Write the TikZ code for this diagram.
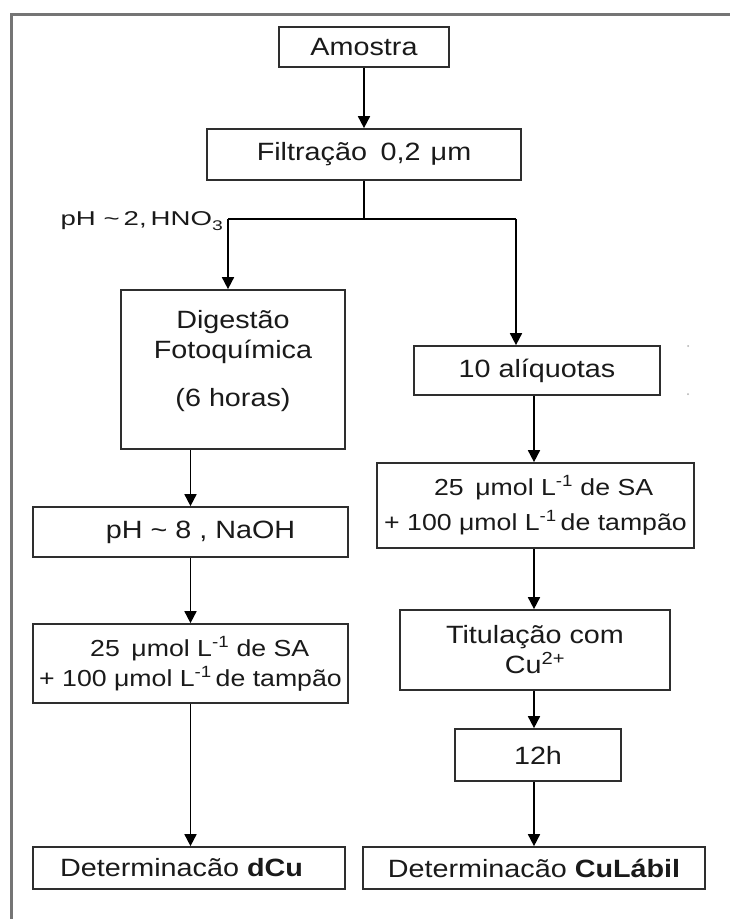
\documentclass[tikz,border=0pt]{standalone}
\usepackage{graphicx}
\usepackage{fontspec}
\setmainfont{Liberation Sans}[FakeStretch=1.15]
\usetikzlibrary{arrows.meta}
\definecolor{boxline}{HTML}{2E2E2E}
\definecolor{framecol}{HTML}{757575}
\definecolor{txt}{HTML}{1A1A1A}
\definecolor{dotcol}{HTML}{B0B0B0}
\begin{document}
\begin{tikzpicture}[x=1pt,y=-1pt,
  box/.style={draw=boxline, line width=1.7pt, inner sep=0pt, text=txt, align=center,
              font=\fontsize{25}{30}\selectfont},
  smallbox/.style={box, font=\fontsize{23.2}{30}\selectfont},
  lbl/.style={inner sep=0pt, text=txt, align=center, font=\fontsize{25}{30}\selectfont},
  arr/.style={draw=black, line width=1.7pt, -{Triangle[width=12pt,length=12pt]}},
  ln/.style={draw=black, line width=1.7pt}]
\useasboundingbox (0,0) rectangle (730,919);
\fill[white] (0,0) rectangle (730,919);
% outer frame (open at right and bottom)
\draw[framecol, line width=3pt] (11.6,919) -- (11.6,14) -- (730,14);

% boxes
\node[box, minimum width=170pt, minimum height=40pt] (amo) at (364,47) {Amostra};
\node[box, minimum width=314pt, minimum height=51pt] (filt) at (364,154.5) {Filtração\hspace{0.55em}0,2\hspace{0.4em}μm};
\node[box, minimum width=224pt, minimum height=159pt] (dig) at (233,369.5) {};
\node[lbl] (digtxt) at (233,361.5) {Digestão\\Fotoquímica\\[18pt](6 horas)};
\node[box, minimum width=246pt, minimum height=49pt] (aliq) at (537,370.5) {10 alíquotas};
\node[smallbox, minimum width=317pt, minimum height=85pt] (sar) at (535.5,505.5)
  {\hspace{0.7em}25\hspace{0.5em}μmol L\textsuperscript{-1} de SA\\[5pt]+ 100 μmol L\textsuperscript{-1}\,de tampão};
\node[box, minimum width=315pt, minimum height=50pt] (ph8) at (190.5,532) {\hspace{0.8em}pH \textasciitilde\ 8 , NaOH};
\node[smallbox, minimum width=315pt, minimum height=79pt] (sal) at (190.5,663.5)
  {\hspace{0.8em}25\hspace{0.5em}μmol L\textsuperscript{-1} de SA\\+ 100 μmol L\textsuperscript{-1}\,de tampão};
\node[box, minimum width=270pt, minimum height=80pt] (tit) at (535,650) {Titulação com\\Cu\textsuperscript{2+}};
\node[box, minimum width=166pt, minimum height=52pt] (h12) at (538,755) {12h};
\node[box, minimum width=342pt, minimum height=42pt] (cul) at (534,868) {Determinacão \textbf{CuLábil}};
\node[box, minimum width=312pt, minimum height=42pt] (dcu) at (189,868) {Determinacão \textbf{dCu}\hspace{0.6em}};

% label
\node[lbl, anchor=east] (acid) at (223,221)
  {\scalebox{1.2}[1]{\fontsize{20}{22}\selectfont pH \textasciitilde\,2,\,HNO\raisebox{-0.45ex}{\fontsize{14}{14}\selectfont 3}}};

% connectors
\coordinate (split) at (364,219);
\coordinate (sl) at (228,219);
\coordinate (sr) at (516,219);
\coordinate (rc) at (534,0);
\draw[arr] (amo.south) -- (filt.north);
\draw[ln] (filt.south) -- (split);
\draw[ln] (sl) -- (sr);
\draw[arr] (sl) -- (sl |- dig.north);
\draw[arr] (sr) -- (sr |- aliq.north);
\draw[arr] (dig.south -| ph8.north) -- (ph8.north);
\draw[arr] (ph8.south) -- (sal.north);
\draw[arr] (sal.south) -- (sal.south |- dcu.north);
\draw[arr] (aliq.south -| rc) -- (sar.north -| rc);
\draw[arr] (sar.south -| rc) -- (tit.north -| rc);
\draw[arr] (tit.south -| rc) -- (h12.north -| rc);
\draw[arr] (h12.south -| rc) -- (cul.north -| rc);

% small marks at right of 10 alíquotas
\fill[dotcol] (688,346) circle (1pt);
\fill[dotcol] (688,394) circle (1pt);
\end{tikzpicture}
\end{document}
